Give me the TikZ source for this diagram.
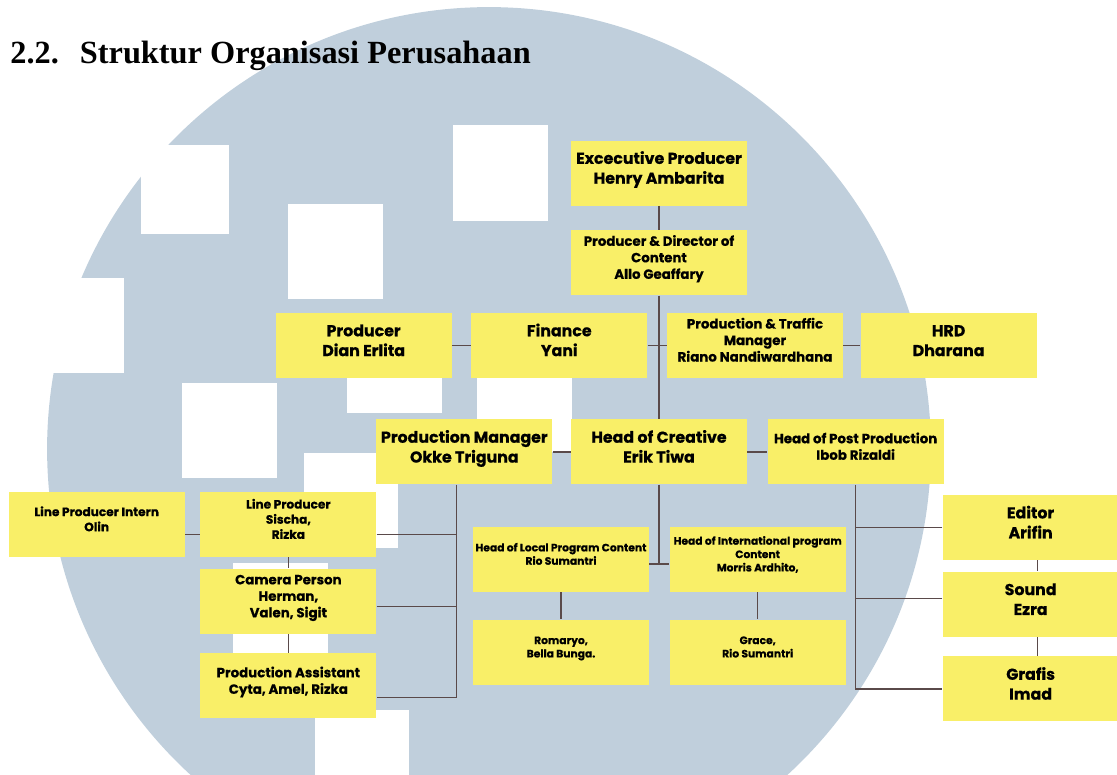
\documentclass[tikz,border=0pt]{standalone}
\usepackage{fontspec}
\setmainfont{Liberation Serif}
\newfontfamily\orgfont{Poppins}[BoldFeatures={FakeBold=0.6}]
\usepackage{xcolor}
\usetikzlibrary{positioning,calc}

\definecolor{bgblue}{HTML}{C0CFDC}
\definecolor{boxyellow}{HTML}{F9EF68}
\definecolor{linkgray}{HTML}{5A4A4A}

% lines of a box, baseline on the last one
\newcommand{\boxlines}[1]{\begin{tabular}[b]{@{}c@{}}#1\end{tabular}}

\begin{document}
\begin{tikzpicture}[
    x=0.02cm, y=-0.02cm,
    unit/.style={fill=boxyellow, inner sep=0pt, minimum width=3.52cm, minimum height=1.3cm, text=black, text depth=7pt},
    box/.style={unit, font=\orgfont\bfseries\fontsize{9}{11.3}\selectfont},
    midbox/.style={unit, font=\orgfont\bfseries\fontsize{7.6}{9.4}\selectfont},
    smallbox/.style={unit, font=\orgfont\bfseries\fontsize{6.9}{8.6}\selectfont},
    tinybox/.style={unit, font=\orgfont\bfseries\fontsize{6.1}{7.6}\selectfont},
    link/.style={draw=linkgray, line width=0.85pt}
]
\useasboundingbox (0,0) rectangle (1117,775);

% background logo
\begin{scope}
\clip (0,0) rectangle (1117,775);
\fill[bgblue] (489,449) circle (8.84cm);
\foreach \xa/\ya/\xb/\yb in {141/145/229/234, 288/204/383/299, 453/125/548/221,
    20/278/124/373, 182/383/277/478, 347/318/442/413, 477/357/572/452,
    304/453/398/548, 233/563/328/653, 315/710/409/800}
  \fill[white] (\xa,\ya) rectangle (\xb,\yb);
\end{scope}

\node[anchor=base west, inner sep=0pt, font=\bfseries\fontsize{18.4}{22}\selectfont] (title) at (10,63) {2.2.\hspace{12pt}Struktur Organisasi Perusahaan};

\node[box] (exec) at (659,173) {\boxlines{Excecutive Producer\\Henry Ambarita}};
\node[midbox, below=0.48cm of exec] (pdc) {\boxlines{Producer \& Director of\\Content\\Allo Geaffary}};

\node[midbox, below=0.34cm of pdc, xshift=1.92cm] (ptm) {\boxlines{Production \& Traffic\\Manager\\Riano Nandiwardhana}};
\node[box, left=0.38cm of ptm] (fin) {\boxlines{Finance\\Yani}};
\node[box, left=0.38cm of fin] (prod) {\boxlines{Producer\\Dian Erlita}};
\node[box, right=0.34cm of ptm] (hrd) {\boxlines{HRD\\Dharana}};

\node[box, below=2.47cm of pdc] (hoc) {\boxlines{Head of Creative\\Erik Tiwa}};
\node[box, left=0.36cm of hoc] (pm) {\boxlines{Production Manager\\Okke Triguna}};
\node[midbox, right=0.4cm of hoc] (hpp) {\boxlines{Head of Post Production\\Ibob Rizaldi}};

\node[tinybox, below=0.84cm of hoc, xshift=-1.96cm] (hlp) {\boxlines{Head of Local Program Content\\Rio Sumantri}};
\node[tinybox, right=0.4cm of hlp] (hip) {\boxlines{Head of International program\\Content\\Morris Ardhito,}};
\node[tinybox, below=0.54cm of hlp] (rom) {\boxlines{Romaryo,\\Bella Bunga.}};
\node[tinybox, below=0.54cm of hip] (grace) {\boxlines{Grace,\\Rio Sumantri}};

\node[box, below=0.2cm of hpp, xshift=3.5cm] (editor) {\boxlines{Editor\\Arifin}};
\node[box, below=0.22cm of editor] (sound) {\boxlines{Sound\\Ezra}};
\node[box, below=0.38cm of sound] (grafis) {\boxlines{Grafis\\Imad}};

\node[smallbox, below=0.14cm of pm, xshift=-3.52cm] (lp) {\boxlines{Line Producer\\Sischa,\\Rizka}};
\node[smallbox, left=0.3cm of lp] (lpi) {\boxlines{Line Producer Intern\\Olin}};
\node[midbox, below=0.22cm of lp] (cam) {\boxlines{Camera Person\\Herman,\\Valen, Sigit}};
\node[midbox, below=0.38cm of cam] (pa) {\boxlines{Production Assistant\\Cyta, Amel, Rizka}};

% taps on the side buses
\coordinate (pmbus) at ([xshift=-0.16cm]pm.south);
\coordinate (lpin) at ([yshift=-0.2cm]lp.east);
\coordinate (lpleft) at ([yshift=-0.2cm]lp.west);
\coordinate (lpout) at ([yshift=-0.2cm]lpi.east);
\coordinate (camin) at ([yshift=-0.11cm]cam.east);
\coordinate (pain) at ([yshift=-0.23cm]pa.east);
\coordinate (soundin) at ([yshift=0.11cm]sound.west);
\coordinate (hlpout) at ([yshift=-0.09cm]hlp.east);
\coordinate (hipin) at ([yshift=-0.09cm]hip.west);

\draw[link] (exec) -- (pdc);
\draw[link] (pdc) -- (hoc);
\draw[link] (prod) -- (fin);
\draw[link] (fin) -- (ptm);
\draw[link] (ptm) -- (hrd);
\draw[link] (pm) -- (hoc);
\draw[link] (hoc) -- (hpp);
\draw[link] (hlpout) -- (hipin);
\draw[link] (hoc.south) -- (hoc.south |- hlpout);
\draw[link] (hlp) -- (rom);
\draw[link] (hip) -- (grace);
\draw[link] (hpp.south) |- (grafis.west);
\draw[link] (editor.west) -- (editor.west -| hpp.south);
\draw[link] (soundin) -- (soundin -| hpp.south);
\draw[link] ([xshift=0.14cm]editor.south) -- ([xshift=0.14cm]sound.north);
\draw[link] ([xshift=0.14cm]sound.south) -- ([xshift=0.14cm]grafis.north);
\draw[link] (pmbus) |- (pain);
\draw[link] (lpin) -- (lpin -| pmbus);
\draw[link] (camin) -- (camin -| pmbus);
\draw[link] (lpout) -- (lpleft);
\draw[link] (lp) -- (cam);
\draw[link] (cam) -- (pa);
\end{tikzpicture}
\end{document}
